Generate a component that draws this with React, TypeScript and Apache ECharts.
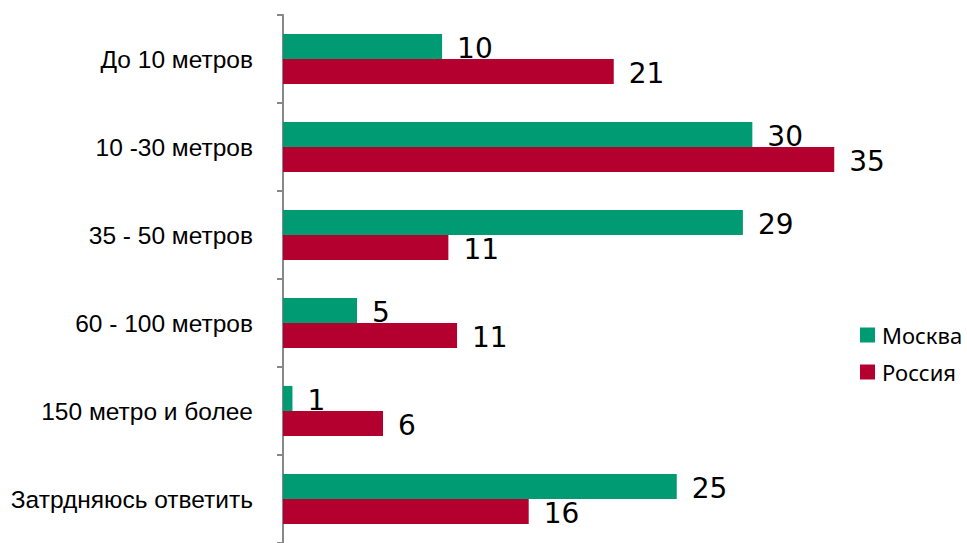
import React, { useEffect, useRef } from "react";
import * as echarts from "echarts";

const categories = [
  "До 10 метров",
  "10 -30 метров",
  "35 - 50 метров",
  "60 - 100 метров",
  "150 метро и более",
  "Затрдняюсь ответить",
];
const seriesNames = ["Москва", "Россия"];
const moscow = [10.1, 29.8, 29.2, 4.7, 0.6, 25.0];
const russia = [21.0, 35.0, 10.5, 11.05, 6.35, 15.6];
const colors = ["#009a73", "#b4002f"];

export default function App() {
  const ref = useRef<HTMLDivElement>(null);
  useEffect(() => {
    document.body.style.margin = "0";
    const chart = echarts.init(ref.current!, null, { renderer: "svg" });
    const label = {
      show: true,
      position: "right",
      distance: 15,
      color: "#000",
      fontFamily: "DejaVu Sans",
      fontSize: 28,
      offset: [0, 2],
      formatter: (p: any) => String(Math.round(p.value)),
    };
    chart.setOption({
      animation: false,
      backgroundColor: "#fff",
      grid: { left: 283, top: 15, width: 630, bottom: -2, containLabel: false },
      legend: {
        orient: "vertical",
        left: 855,
        top: 319,
        itemWidth: 15,
        itemHeight: 15,
        itemGap: 15,
        icon: "rect",
        textStyle: { fontFamily: "Noto Sans", fontSize: 22, lineHeight: 22, color: "#000", padding: [0, 0, 0, 2] },
        data: seriesNames,
      },
      xAxis: { type: "value", min: 0, max: 40, show: false },
      yAxis: {
        type: "category",
        inverse: true,
        data: categories,
        axisLine: { show: true, lineStyle: { color: "#888", width: 2 } },
        axisTick: { show: true, length: 6, lineStyle: { color: "#888", width: 2 } },
        axisLabel: { margin: 30, color: "#000", fontFamily: "Liberation Sans", fontSize: 24.5 },
      },
      series: [
        { name: seriesNames[0], type: "bar", data: moscow, itemStyle: { color: colors[0] }, barGap: "0%", barCategoryGap: "43%", label },
        { name: seriesNames[1], type: "bar", data: russia, itemStyle: { color: colors[1] }, barGap: "0%", barCategoryGap: "43%", label },
      ],
    });
    return () => chart.dispose();
  }, []);
  return <div ref={ref} style={{ width: 967, height: 543 }} />;
}
